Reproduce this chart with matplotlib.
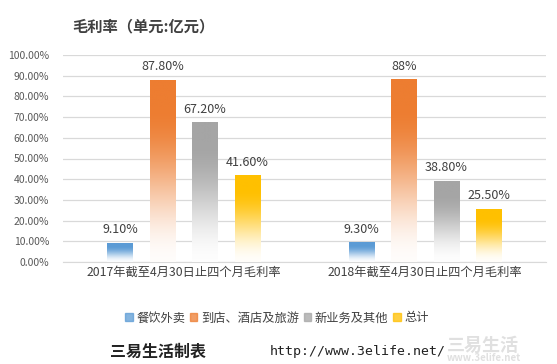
import matplotlib.pyplot as plt
import numpy as np
from matplotlib.colors import to_rgb

plt.rcParams['font.family'] = ['Noto Sans CJK SC', 'DejaVu Sans']

categories = ['2017年截至4月30日止四个月毛利率', '2018年截至4月30日止四个月毛利率']
series = ['餐饮外卖', '到店、酒店及旅游', '新业务及其他', '总计']
values = [
    [9.1, 9.3],
    [87.8, 88.0],
    [67.2, 38.8],
    [41.6, 25.5],
]
value_labels = [
    ['9.10%', '9.30%'],
    ['87.80%', '88%'],
    ['67.20%', '38.80%'],
    ['41.60%', '25.50%'],
]
colors = ['#5B9BD5', '#ED7D31', '#A5A5A5', '#FFC000']


def gradient_bar(ax, patch, color):
    # solid at the top, fading to white towards the bottom
    x0, y0 = patch.get_x(), patch.get_y()
    w, h = patch.get_width(), patch.get_height()
    n = 300
    t = np.linspace(0, 1, n)  # 0 bottom, 1 top
    u = np.clip(t / 0.85, 0, 1)
    k = 3 * u ** 2 - 2 * u ** 3
    k = 0.02 + 0.98 * k
    rgb = np.array(to_rgb(color))
    img = np.ones((n, 1, 3))
    img[:, 0, :] = k[:, None] * rgb + (1 - k[:, None]) * 1.0
    ax.imshow(img, extent=(x0, x0 + w, y0, y0 + h), origin='lower',
              aspect='auto', interpolation='bilinear', zorder=3)


fig = plt.figure(figsize=(5.57, 3.64), dpi=100)
ax = fig.add_axes([63 / 557, 1 - 262 / 364, (546 - 63) / 557, (262 - 55) / 364])

x = np.arange(len(categories))
width = 0.104
step = 0.176
for i, (s, vals) in enumerate(zip(series, values)):
    pos = x + (i - 1.5) * step
    bars = ax.bar(pos, vals, width, color='none', label=s, zorder=3)
    for b, lab in zip(bars, value_labels[i]):
        gradient_bar(ax, b, colors[i])
        ax.text(b.get_x() + b.get_width() / 2, b.get_height() + 3.5, lab,
                ha='center', va='bottom', fontsize=9, color='#404040', zorder=4)

ax.set_xlim(-0.5, 1.5)
ax.set_ylim(0, 100)
ax.set_yticks(np.arange(0, 101, 10))
ax.set_yticklabels(['%.2f%%' % v for v in np.arange(0, 101, 10)])
ax.set_xticks(x)
ax.set_xticklabels(categories, fontsize=8.8)
ax.tick_params(axis='y', length=0, labelsize=7.5, colors='#595959', pad=10)
ax.tick_params(axis='x', length=0, colors='#404040', pad=3)
ax.grid(axis='y', color='#D9D9D9', linewidth=0.9, zorder=0)
ax.set_axisbelow(True)
for sp in ['top', 'right', 'left']:
    ax.spines[sp].set_visible(False)
ax.spines['bottom'].set_color('#D9D9D9')

handles = [plt.Rectangle((0, 0), 1, 1, color=c, alpha=0.75) for c in colors]
fig.legend(handles, series, loc='center', bbox_to_anchor=(277 / 557, 1 - 318 / 364),
           ncol=4, frameon=False, fontsize=8.8, handlelength=0.6, handleheight=0.6,
           handletextpad=0.3, columnspacing=0.4, labelcolor='#404040')

fig.text(72 / 557, 1 - 26 / 364, '毛利率（单元:亿元）', fontsize=11, fontweight='bold',
         color='#404040', va='center')
fig.text(110 / 557, 1 - 352 / 364, '三易生活制表', fontsize=11.5, fontweight='bold',
         color='#222222', va='center')
fig.text(270 / 557, 1 - 352 / 364, 'http://www.3elife.net/', fontsize=9.5,
         family='DejaVu Sans Mono', color='#222222', va='center')
fig.text(447 / 557, 1 - 345 / 364, '三易生活', fontsize=13, fontweight='bold',
         color='#E0E0E0', va='center')
fig.text(447 / 557, 1 - 358 / 364, 'www.3elife.net', fontsize=7, fontweight='bold',
         color='#E0E0E0', va='center')

fig.savefig('out.png', dpi=100)
